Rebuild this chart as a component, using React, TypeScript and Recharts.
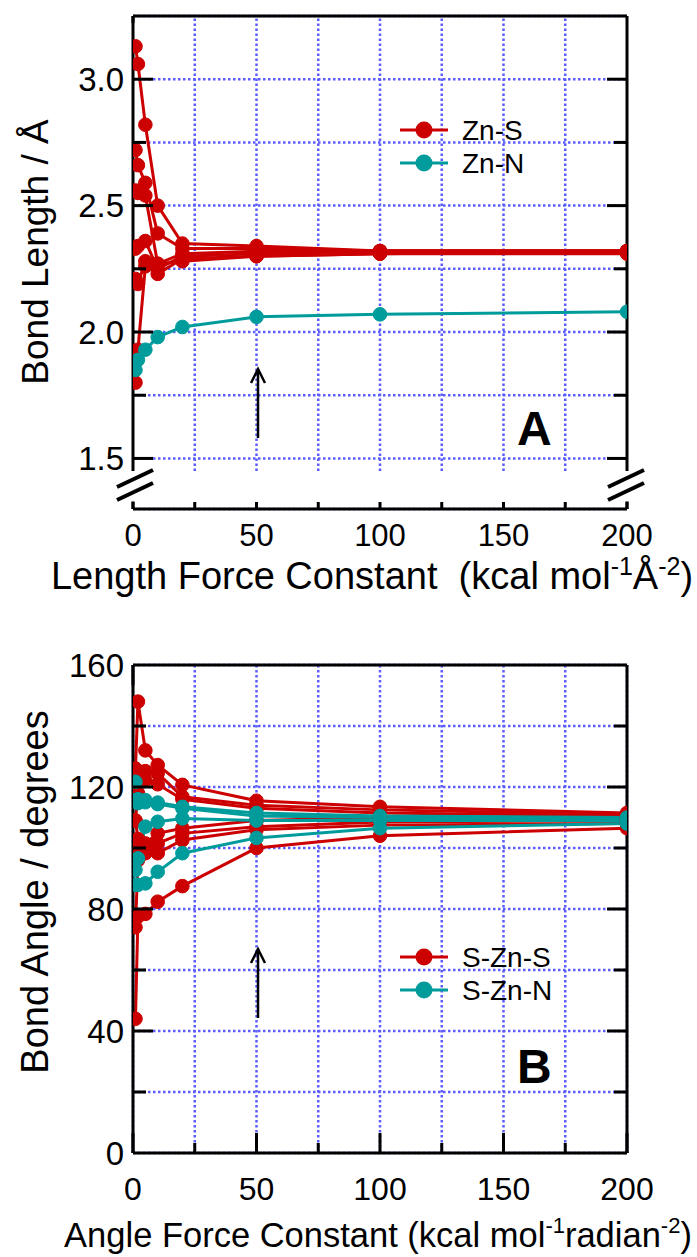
import React from 'react';
import { CartesianGrid, Legend, Line, LineChart, ReferenceLine, XAxis, YAxis } from 'recharts';

const FONT = '"Liberation Sans", Arial, sans-serif';
const RED = '#cc0000';
const TEAL = '#009b9b';
const GRID = '#5c5cff';

// force constants sampled (same for both panels)
const forceConstants = [1, 2, 5, 10, 20, 50, 100, 200];

// panel A: bond lengths (Å)
const znS1 = [3.13, 3.06, 2.82, 2.5, 2.35, 2.34, 2.32, 2.32];
const znS2 = [2.72, 2.66, 2.59, 2.39, 2.33, 2.33, 2.32, 2.32];
const znS3 = [2.56, 2.55, 2.54, 2.27, 2.31, 2.32, 2.32, 2.32];
const znS4 = [2.33, 2.34, 2.36, 2.25, 2.3, 2.31, 2.32, 2.32];
const znS5 = [2.21, 2.19, 2.28, 2.23, 2.29, 2.3, 2.31, 2.32];
const znS6 = [1.8, 1.93, 2.26, 2.27, 2.28, 2.3, 2.31, 2.31];
const znN = [1.85, 1.89, 1.93, 1.98, 2.02, 2.06, 2.07, 2.08];

// panel B: bond angles (degrees)
const sZnS1 = [126, 148, 132, 127.2, 120.7, 115.5, 113.5, 111.5];
const sZnS2 = [126, 124, 125.2, 124.5, 116.8, 114, 112.5, 111];
const sZnS3 = [109, 118, 122.3, 120.9, 116, 113, 111.5, 110.5];
const sZnS4 = [109, 103, 101.5, 104.8, 106.5, 109, 110, 110];
const sZnS5 = [99.3, 98, 98.3, 101.5, 104.8, 107, 108.5, 109];
const sZnS6 = [74, 96, 100, 98.3, 102.6, 106, 107.5, 108];
const sZnS7 = [44, 77.5, 78.4, 82.4, 87.5, 100, 104, 106.5];
const sZnN1 = [121.7, 114.7, 115.7, 114.9, 113.5, 111.5, 110.5, 110];
const sZnN2 = [115.7, 116, 115, 114.4, 113, 110.5, 110, 109.5];
const sZnN3 = [92.8, 96.6, 107, 108.6, 109.7, 109, 109, 109];
const sZnN4 = [88, 87.9, 88.4, 92.2, 98.3, 103.3, 106.5, 108];

const xTicks = [0, 25, 50, 75, 100, 125, 150, 175, 200];
const xLabels = [0, 50, 100, 150, 200];
const lengthTicks = [1.5, 1.75, 2.0, 2.25, 2.5, 2.75, 3.0, 3.25];
const lengthLabels = [1.5, 2.0, 2.5, 3.0];
const angleTicks = [0, 20, 40, 60, 80, 100, 120, 140, 160];
const angleLabels = [0, 40, 80, 120, 160];

const lengthSeries = [znS1, znS2, znS3, znS4, znS5, znS6];
const angleRed = [sZnS1, sZnS2, sZnS3, sZnS4, sZnS5, sZnS6, sZnS7];
const angleTeal = [sZnN1, sZnN2, sZnN3, sZnN4];

const lengthData = forceConstants.map((k, i) => {
  const row: Record<string, number> = { k, n: znN[i] };
  lengthSeries.forEach((s, j) => (row[`s${j}`] = s[i]));
  return row;
});

const angleData = forceConstants.map((k, i) => {
  const row: Record<string, number> = { k };
  angleRed.forEach((s, j) => (row[`s${j}`] = s[i]));
  angleTeal.forEach((s, j) => (row[`n${j}`] = s[i]));
  return row;
});

type TickProps = { x: number; y: number; payload: { value: number } };

const leftTick = (labels: number[], fmt: (v: number) => string, skip: number[] = []) =>
  ({ x, y, payload }: TickProps) => {
    const v = payload.value;
    const major = labels.includes(v);
    return (
      <g>
        {!skip.includes(v) && (
          <line x1={x} x2={x + (major ? 20 : 13)} y1={y} y2={y} stroke="#000" strokeWidth={3} />
        )}
        {major && (
          <text x={x - 9} y={y} dy="0.36em" textAnchor="end" fontSize={33} fontFamily={FONT} fill="#000">
            {fmt(v)}
          </text>
        )}
      </g>
    );
  };

const rightTick = (labels: number[], skip: number[] = []) =>
  ({ x, y, payload }: TickProps) => {
    const v = payload.value;
    if (skip.includes(v)) return <g />;
    const major = labels.includes(v);
    return <line x1={x} x2={x - (major ? 20 : 13)} y1={y} y2={y} stroke="#000" strokeWidth={3} />;
  };

const bottomTick = (majorLen: number, minorLen: number, labelGap: number, size: number) =>
  ({ x, y, payload }: TickProps) => {
    const v = payload.value;
    const major = xLabels.includes(v);
    return (
      <g>
        <line x1={x} x2={x} y1={y} y2={y - (major ? majorLen : minorLen)} stroke="#000" strokeWidth={3} />
        {major && (
          <text x={x} y={y + labelGap} textAnchor="middle" fontSize={size} fontFamily={FONT} fill="#000">
            {v}
          </text>
        )}
      </g>
    );
  };

const topTick = (majorLen: number, minorLen: number) =>
  ({ x, y, payload }: TickProps) => {
    const major = xLabels.includes(payload.value);
    return <line x1={x} x2={x} y1={y} y2={y + (major ? majorLen : minorLen)} stroke="#000" strokeWidth={3} />;
  };

const LegendBox = ({ items }: { items: { label: string; color: string }[] }) => (
  <svg width={170} height={70}>
    {items.map((it, i) => (
      <g key={it.label} transform={`translate(0, ${17 + i * 33})`}>
        <line x1={5} x2={53} y1={0} y2={0} stroke={it.color} strokeWidth={3} />
        <circle cx={29} cy={0} r={8.5} fill={it.color} />
        <text x={67} y={0} dy="0.36em" fontSize={28} fontFamily={FONT} fill="#000">
          {it.label}
        </text>
      </g>
    ))}
  </svg>
);

const dotStyle = (c: string) => ({ r: 6.8, fill: c, stroke: c, strokeWidth: 1 });

const axisStroke = { stroke: '#000', strokeWidth: 3 };

export default function App() {
  return (
    <div style={{ position: 'absolute', left: 0, top: 0, width: 697, height: 1257, background: '#fff', fontFamily: FONT }}>
      <div style={{ position: 'absolute', left: 0, top: 0 }}>
        <LineChart width={697} height={600} data={lengthData} margin={{ top: 15, right: 69, bottom: 90, left: 132 }}>
          <CartesianGrid xAxisId="b" yAxisId="l" vertical={false} stroke={GRID} strokeWidth={2.5} strokeDasharray="2.5 2.5" />
          {xTicks.slice(1, -1).map((t) => (
            <ReferenceLine
              key={t}
              xAxisId="b"
              yAxisId="l"
              segment={[{ x: t, y: 1.45 }, { x: t, y: 3.25 }]}
              stroke={GRID}
              strokeWidth={2.5}
              strokeDasharray="2.5 2.5"
            />
          ))}
          {/* broken side axes */}
          {[0, 200].map((t) => (
            <ReferenceLine key={`a${t}`} xAxisId="b" yAxisId="l" segment={[{ x: t, y: 1.45 }, { x: t, y: 3.25 }]} stroke="#000" strokeWidth={3} ifOverflow="visible" />
          ))}
          {[0, 200].map((t) => (
            <ReferenceLine key={`s${t}`} xAxisId="b" yAxisId="l" segment={[{ x: t, y: 1.3 }, { x: t, y: 1.33 }]} stroke="#000" strokeWidth={3} ifOverflow="visible" />
          ))}
          <XAxis
            xAxisId="b"
            type="number"
            dataKey="k"
            domain={[0, 200]}
            ticks={xTicks}
            interval={0}
            height={1}
            tickSize={0}
            tickMargin={0}
            tickLine={false}
            axisLine={axisStroke}
            tick={bottomTick(7, 7, 37, 31)}
            allowDataOverflow
          />
          <XAxis
            xAxisId="t"
            orientation="top"
            type="number"
            domain={[0, 200]}
            ticks={xTicks}
            interval={0}
            height={1}
            tickSize={0}
            tickMargin={0}
            tickLine={false}
            axisLine={axisStroke}
            tick={topTick(7, 7)}
            allowDataOverflow
          />
          <YAxis
            yAxisId="l"
            type="number"
            domain={[1.3, 3.25]}
            ticks={lengthTicks}
            interval={0}
            width={1}
            tickSize={0}
            tickMargin={0}
            tickLine={false}
            axisLine={false}
            tick={leftTick(lengthLabels, (v) => v.toFixed(1), [3.25])}
            allowDataOverflow
          />
          <YAxis
            yAxisId="r"
            orientation="right"
            type="number"
            domain={[1.3, 3.25]}
            ticks={lengthTicks}
            interval={0}
            width={1}
            tickSize={0}
            tickMargin={0}
            tickLine={false}
            axisLine={false}
            tick={rightTick(lengthLabels, [3.25])}
            allowDataOverflow
          />
          <Legend
            layout="vertical"
            align="center"
            verticalAlign="middle"
            wrapperStyle={{ left: 395, top: 113, bottom: 'auto', width: 170 }}
            content={() => (
              <LegendBox items={[{ label: 'Zn-S', color: RED }, { label: 'Zn-N', color: TEAL }]} />
            )}
          />
          {lengthSeries.map((_, j) => (
            <Line
              key={j}
              xAxisId="b"
              yAxisId="l"
              dataKey={`s${j}`}
              stroke={RED}
              strokeWidth={3}
              dot={dotStyle(RED)}
              activeDot={false}
              isAnimationActive={false}
            />
          ))}
          <Line xAxisId="b" yAxisId="l" dataKey="n" stroke={TEAL} strokeWidth={3} dot={dotStyle(TEAL)} activeDot={false} isAnimationActive={false} />
        </LineChart>
      </div>

      <div style={{ position: 'absolute', left: 0, top: 600 }}>
        <LineChart width={697} height={657} data={angleData} margin={{ top: 64, right: 69, bottom: 103, left: 132 }}>
          <CartesianGrid xAxisId="b" yAxisId="l" stroke={GRID} strokeWidth={2.5} strokeDasharray="2.5 2.5" />
          <XAxis
            xAxisId="b"
            type="number"
            dataKey="k"
            domain={[0, 200]}
            ticks={xTicks}
            interval={0}
            height={1}
            tickSize={0}
            tickMargin={0}
            tickLine={false}
            axisLine={axisStroke}
            tick={bottomTick(20, 10, 47, 32)}
            allowDataOverflow
          />
          <XAxis
            xAxisId="t"
            orientation="top"
            type="number"
            domain={[0, 200]}
            ticks={xTicks}
            interval={0}
            height={1}
            tickSize={0}
            tickMargin={0}
            tickLine={false}
            axisLine={axisStroke}
            tick={topTick(20, 10)}
            allowDataOverflow
          />
          <YAxis
            yAxisId="l"
            type="number"
            domain={[0, 160]}
            ticks={angleTicks}
            interval={0}
            width={1}
            tickSize={0}
            tickMargin={0}
            tickLine={false}
            axisLine={axisStroke}
            tick={leftTick(angleLabels, (v) => String(v), [0, 160])}
            allowDataOverflow
          />
          <YAxis
            yAxisId="r"
            orientation="right"
            type="number"
            domain={[0, 160]}
            ticks={angleTicks}
            interval={0}
            width={1}
            tickSize={0}
            tickMargin={0}
            tickLine={false}
            axisLine={axisStroke}
            tick={rightTick(angleLabels, [0, 160])}
            allowDataOverflow
          />
          <Legend
            layout="vertical"
            align="center"
            verticalAlign="middle"
            wrapperStyle={{ left: 395, top: 340, bottom: 'auto', width: 170 }}
            content={() => (
              <LegendBox items={[{ label: 'S-Zn-S', color: RED }, { label: 'S-Zn-N', color: TEAL }]} />
            )}
          />
          {angleRed.map((_, j) => (
            <Line
              key={`r${j}`}
              xAxisId="b"
              yAxisId="l"
              dataKey={`s${j}`}
              stroke={RED}
              strokeWidth={3}
              dot={dotStyle(RED)}
              activeDot={false}
              isAnimationActive={false}
            />
          ))}
          {angleTeal.map((_, j) => (
            <Line
              key={`t${j}`}
              xAxisId="b"
              yAxisId="l"
              dataKey={`n${j}`}
              stroke={TEAL}
              strokeWidth={3}
              dot={dotStyle(TEAL)}
              activeDot={false}
              isAnimationActive={false}
            />
          ))}
        </LineChart>
      </div>

      {/* annotations: axis titles, break marks, arrows, panel letters */}
      <svg width={697} height={1257} style={{ position: 'absolute', left: 0, top: 0, pointerEvents: 'none' }} fontFamily={FONT}>
        <g stroke="#000" strokeWidth={4}>
          <line x1={117} y1={500} x2={153} y2={483} />
          <line x1={117} y1={487} x2={153} y2={470} />
          <line x1={608} y1={500} x2={644} y2={483} />
          <line x1={608} y1={487} x2={644} y2={470} />
        </g>
        <g stroke="#000" strokeWidth={2.5} fill="none">
          <line x1={258} y1={438} x2={258} y2={369} />
          <polyline points="251,383 258,369 265,383" />
          <line x1={258} y1={1018} x2={258} y2={949} />
          <polyline points="251,963 258,949 265,963" />
        </g>
        <text x={517} y={445} fontSize={48} fontWeight="bold" fill="#000">A</text>
        <text x={517} y={1083} fontSize={48} fontWeight="bold" fill="#000">B</text>

        <text transform="translate(48,252) rotate(-90)" textAnchor="middle" fontSize={37} fill="#000">
          Bond Length / Å
        </text>
        <text transform="translate(48,892) rotate(-90)" textAnchor="middle" fontSize={38} fill="#000">
          Bond Angle / degrees
        </text>
        <text x={372} y={589} textAnchor="middle" fontSize={38} fill="#000">
          Length Force Constant{'\u00a0\u00a0'}(kcal mol
          <tspan fontSize={25} dy={-14}>-1</tspan>
          <tspan dy={14}>Å</tspan>
          <tspan fontSize={25} dy={-14}>-2</tspan>
          <tspan dy={14}>)</tspan>
        </text>
        <text x={378} y={1247} textAnchor="middle" fontSize={34.5} fill="#000">
          Angle Force Constant (kcal mol
          <tspan fontSize={22} dy={-14}>-1</tspan>
          <tspan dy={14}>radian</tspan>
          <tspan fontSize={22} dy={-14}>-2</tspan>
          <tspan dy={14}>)</tspan>
        </text>
      </svg>
    </div>
  );
}
